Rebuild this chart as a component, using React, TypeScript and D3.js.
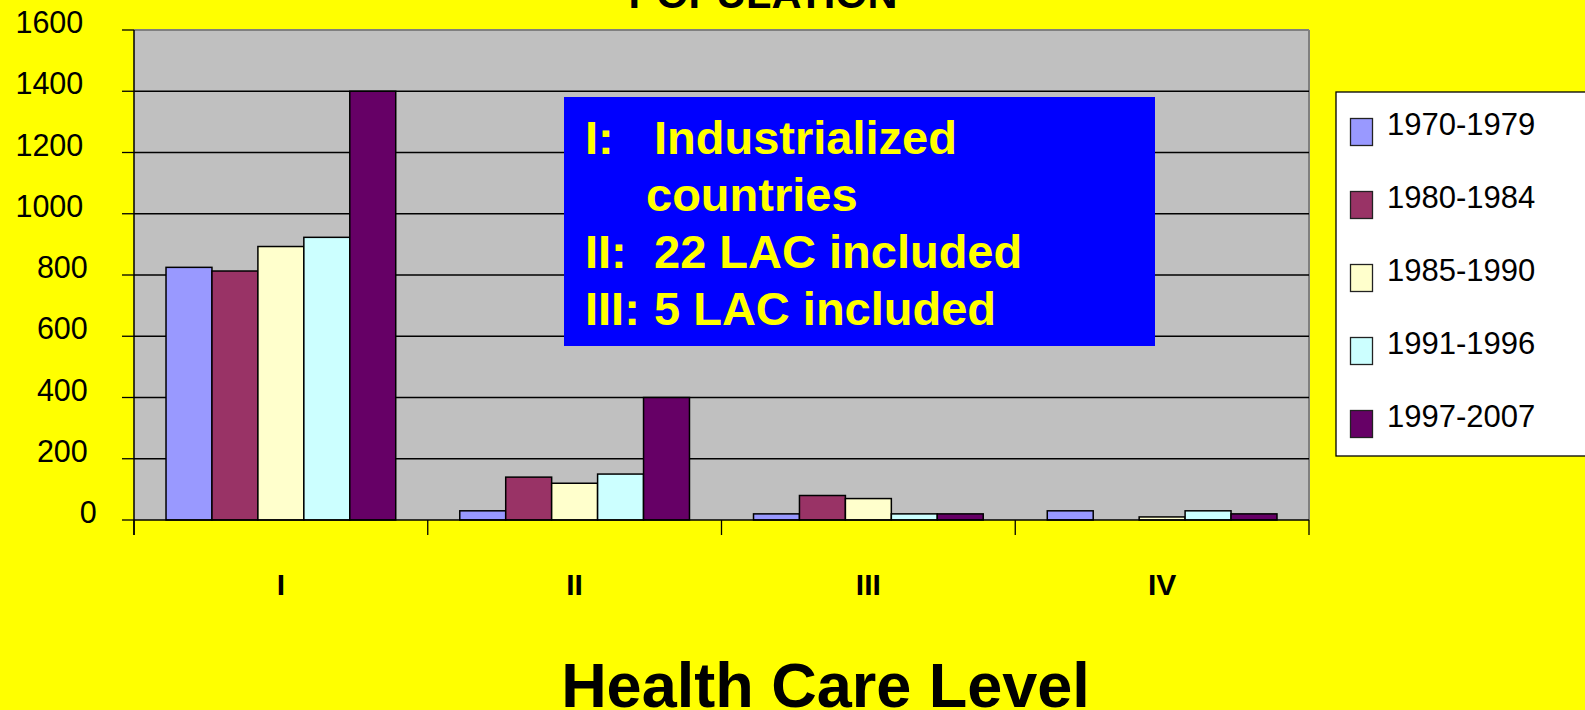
import React from "react";
import * as d3 from "d3";

const categories = ["I", "II", "III", "IV"];
const seriesNames = ["1970-1979", "1980-1984", "1985-1990", "1991-1996", "1997-2007"];
const seriesColors = ["#9999FF", "#993366", "#FFFFCC", "#CCFFFF", "#660066"];
const s1970 = [825, 30, 20, 30];
const s1980 = [813, 140, 80, 0];
const s1985 = [893, 120, 70, 10];
const s1991 = [923, 150, 20, 30];
const s1997 = [1400, 400, 20, 20];
const seriesValues = [s1970, s1980, s1985, s1991, s1997];
const yTicks = [0, 200, 400, 600, 800, 1000, 1200, 1400, 1600];
const noteLines = [
  { a: "I:", b: "Industrialized" },
  { a: "", b: "countries" },
  { a: "II:", b: "22 LAC included" },
  { a: "III:", b: "5 LAC included" },
];

const W = 1585;
const H = 710;
const FONT = "'Liberation Sans', Arial, sans-serif";

export default function App() {
  const left = 134;
  const right = 1309;
  const top = 30;
  const bottom = 520;

  const y = d3.scaleLinear().domain([0, 1600]).range([bottom, top]);
  const x = d3.scaleBand<string>().domain(categories).range([left, right]).padding(0);
  const bw = x.bandwidth();
  const inner = d3
    .scaleBand<number>()
    .domain(d3.range(seriesNames.length))
    .range([bw * 0.109, bw * 0.891])
    .padding(0);

  return (
    <svg
      width={W}
      height={H}
      style={{ position: "absolute", left: 0, top: 0, display: "block" }}
      fontFamily={FONT}
    >
      <rect x={0} y={0} width={W} height={H} fill="#FFFF00" />

      {/* Title (cut off at top) */}
      <text x={763} y={8} textAnchor="middle" fontWeight="bold" fontSize={41.5} fill="#000">
        POPULATION
      </text>

      {/* Plot area */}
      <rect x={left} y={top} width={right - left} height={bottom - top} fill="#C0C0C0" />
      <line x1={left} x2={right} y1={top} y2={top} stroke="#808080" strokeWidth={2} />
      <line x1={right} x2={right} y1={top} y2={bottom} stroke="#808080" strokeWidth={2} />

      {/* Gridlines */}
      {yTicks
        .filter((t) => t > 0 && t < 1600)
        .map((t) => (
          <line key={"g" + t} x1={left} x2={right} y1={y(t)} y2={y(t)} stroke="#000" strokeWidth={1.3} />
        ))}

      {/* Bars */}
      {categories.map((c, ci) =>
        seriesValues.map((vals, si) => {
          const v = vals[ci];
          if (!v) return null;
          return (
            <rect
              key={c + si}
              x={(x(c) as number) + (inner(si) as number)}
              y={y(v)}
              width={inner.bandwidth()}
              height={bottom - y(v)}
              fill={seriesColors[si]}
              stroke="#000"
              strokeWidth={1.5}
            />
          );
        })
      )}

      {/* Axes */}
      <line x1={left} x2={left} y1={top} y2={bottom + 15} stroke="#000" strokeWidth={1.5} />
      <line x1={left} x2={right} y1={bottom} y2={bottom} stroke="#000" strokeWidth={1.5} />
      {yTicks.map((t) => (
        <g key={"yt" + t}>
          <line x1={left - 12} x2={left} y1={y(t)} y2={y(t)} stroke="#000" strokeWidth={1.3} />
          <text
            x={83.3 + 4.5 * (4 - String(t).length)}
            y={y(t) + 3}
            textAnchor="end"
            fontSize={30.5}
            fill="#000"
          >
            {t}
          </text>
        </g>
      ))}
      {categories.concat([""]).map((c, i) => {
        const xx = left + i * bw;
        return <line key={"xt" + i} x1={xx} x2={xx} y1={bottom} y2={bottom + 15} stroke="#000" strokeWidth={1.3} />;
      })}
      {categories.map((c) => (
        <text
          key={"xl" + c}
          x={(x(c) as number) + bw / 2}
          y={595}
          textAnchor="middle"
          fontWeight="bold"
          fontSize={30}
          fill="#000"
        >
          {c}
        </text>
      ))}

      {/* Axis title */}
      <text x={825.5} y={707} textAnchor="middle" fontWeight="bold" fontSize={63} fill="#000">
        Health Care Level
      </text>

      {/* Note box */}
      <rect x={564} y={97} width={591} height={249} fill="#0000FF" />
      {noteLines.map((l, i) => (
        <g key={"n" + i}>
          {l.a && (
            <text x={585} y={154 + i * 57} fontWeight="bold" fontSize={47} fill="#FFFF00">
              {l.a}
            </text>
          )}
          <text x={l.a ? 654 : 646} y={154 + i * 57} fontWeight="bold" fontSize={47} fill="#FFFF00">
            {l.b}
          </text>
        </g>
      ))}

      {/* Legend */}
      <rect x={1336} y={92} width={300} height={364} fill="#FFFFFF" stroke="#000" strokeWidth={1.3} />
      {seriesNames.map((n, i) => (
        <g key={"lg" + i}>
          <rect
            x={1350.5}
            y={118.5 + i * 73}
            width={22}
            height={27}
            fill={seriesColors[i]}
            stroke="#222"
            strokeWidth={1.3}
          />
          <text x={1387} y={135 + i * 73} fontSize={31} fill="#000">
            {n}
          </text>
        </g>
      ))}
    </svg>
  );
}
